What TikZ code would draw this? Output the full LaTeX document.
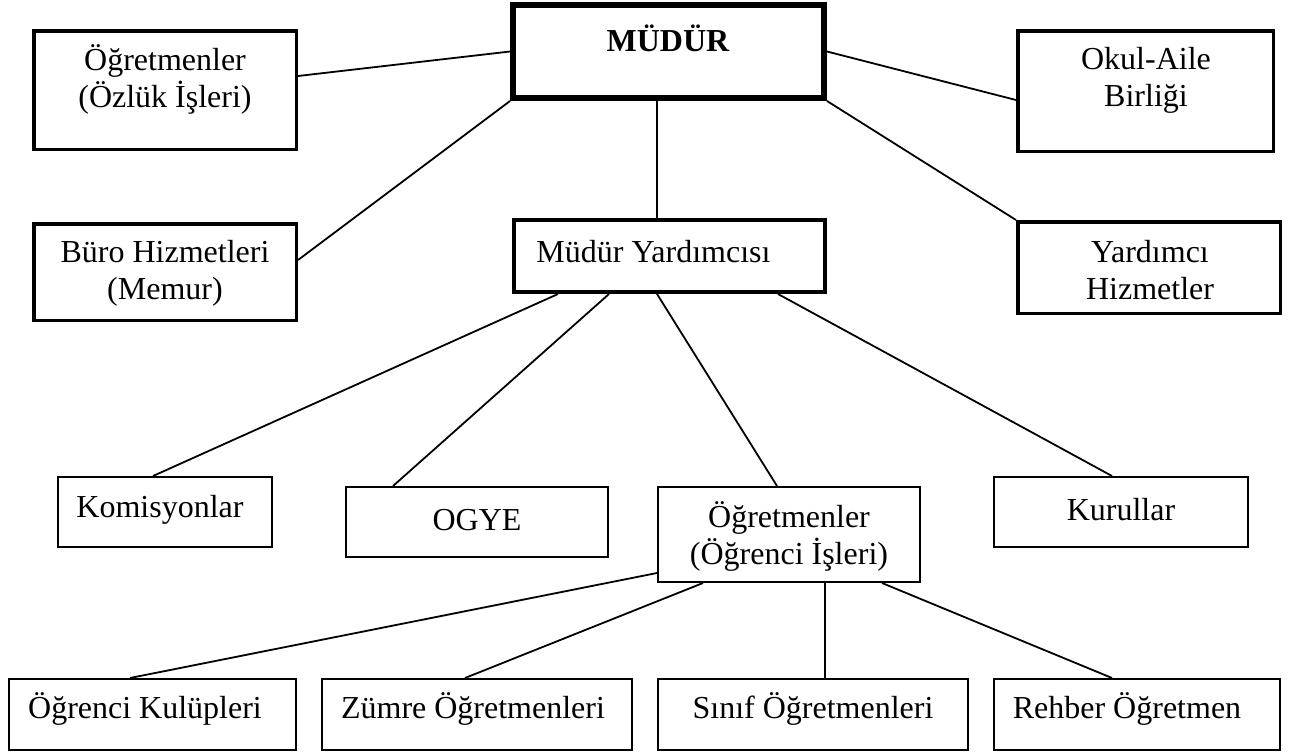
\documentclass[tikz,border=0pt]{standalone}
\usepackage{fontspec}
\setmainfont{Liberation Serif}
\begin{document}
\begin{tikzpicture}[x=1pt,y=-1pt,
  bx/.style={draw=black,rectangle,inner sep=0pt,line width=2pt},
  bxm/.style={bx,line width=3.5pt},
  bxh/.style={bx,line width=6pt},
  txt/.style={inner sep=0pt,align=center,font=\fontsize{32}{37}\selectfont},
  conn/.style={draw=black,line width=1.8pt}]
\useasboundingbox (0,0) rectangle (1299,753);
% top level
\node[bxm,minimum width=262.5pt,minimum height=118.5pt] (ozluk) at (165,90) {};
\node[txt] (ozlukt) at (165,79) {Öğretmenler\\(Özlük İşleri)};
\node[bxm,minimum width=262.5pt,minimum height=96.5pt] (buro) at (165,272) {};
\node[txt] (burot) at (165,273) {Büro Hizmetleri\\(Memur)};
\node[bxh,minimum width=311pt,minimum height=93pt] (mudur) at (668.5,51.5) {};
\node[txt,font=\fontsize{32}{37}\selectfont\bfseries] (mudurt) at (668,38) {MÜDÜR};
\node[bxm,minimum width=255.5pt,minimum height=120.5pt] (okul) at (1145.5,91) {};
\node[txt] (okult) at (1146,80) {Okul-Aile\\Birliği};
\node[bxm,minimum width=262.5pt,minimum height=91.5pt] (yard) at (1149,267.5) {};
\node[txt] (yardt) at (1150,270) {Yardımcı\\Hizmetler};
\node[bx,line width=4pt,minimum width=311pt,minimum height=72pt] (my) at (669.5,256) {};
\node[txt] (myt) at (653.5,252) {Müdür Yardımcısı};
% middle level
\node[bx,minimum width=214pt,minimum height=70pt] (kom) at (165,512) {};
\node[txt] (komt) at (160,510) {Komisyonlar};
\node[bx,minimum width=262pt,minimum height=70pt] (ogye) at (477,522) {};
\node[txt] (ogyet) at (477,520) {OGYE};
\node[bx,minimum width=262pt,minimum height=95pt] (ogr) at (789,534.5) {};
\node[txt] (ogrt) at (789,536) {Öğretmenler\\(Öğrenci İşleri)};
\node[bx,minimum width=254pt,minimum height=70pt] (kur) at (1121,512) {};
\node[txt] (kurt) at (1121,510) {Kurullar};
% bottom level
\node[bx,minimum width=287pt,minimum height=71pt] (kul) at (152.5,714.5) {};
\node[txt] (kult) at (145,709) {Öğrenci Kulüpleri};
\node[bx,minimum width=310pt,minimum height=71pt] (zum) at (477,714.5) {};
\node[txt] (zumt) at (473,709) {Zümre Öğretmenleri};
\node[bx,minimum width=310pt,minimum height=71pt] (sin) at (813,714.5) {};
\node[txt] (sint) at (813,709) {Sınıf Öğretmenleri};
\node[bx,minimum width=286pt,minimum height=71pt] (reh) at (1137,714.5) {};
\node[txt] (reht) at (1127,709) {Rehber Öğretmen};
% connectors
\draw[conn] ([yshift=14pt]ozluk.east) -- (mudur.west);
\draw[conn] ([yshift=12pt]buro.east) -- (mudur.south west);
\draw[conn] (mudur.east) -- ([yshift=-9pt]okul.west);
\draw[conn] (mudur.south east) -- (yard.north west);
\draw[conn] ([xshift=-11.5pt]mudur.south) -- ([xshift=-12.5pt]my.north);
\draw[conn] ([xshift=-111.5pt]my.south) -- ([xshift=-12pt]kom.north);
\draw[conn] ([xshift=-60.5pt]my.south) -- ([xshift=-84pt]ogye.north);
\draw[conn] ([xshift=-12.5pt]my.south) -- ([xshift=-12pt]ogr.north);
\draw[conn] ([xshift=108.5pt]my.south) -- ([xshift=-9pt]kur.north);
\draw[conn] ([yshift=-38.5pt]ogr.west) -- ([xshift=-22.5pt]kul.north);
\draw[conn] ([xshift=-86pt]ogr.south) -- ([xshift=-12pt]zum.north);
\draw[conn] ([xshift=36pt]ogr.south) -- ([xshift=12pt]sin.north);
\draw[conn] ([xshift=93pt]ogr.south) -- ([xshift=-25pt]reh.north);
\end{tikzpicture}
\end{document}
